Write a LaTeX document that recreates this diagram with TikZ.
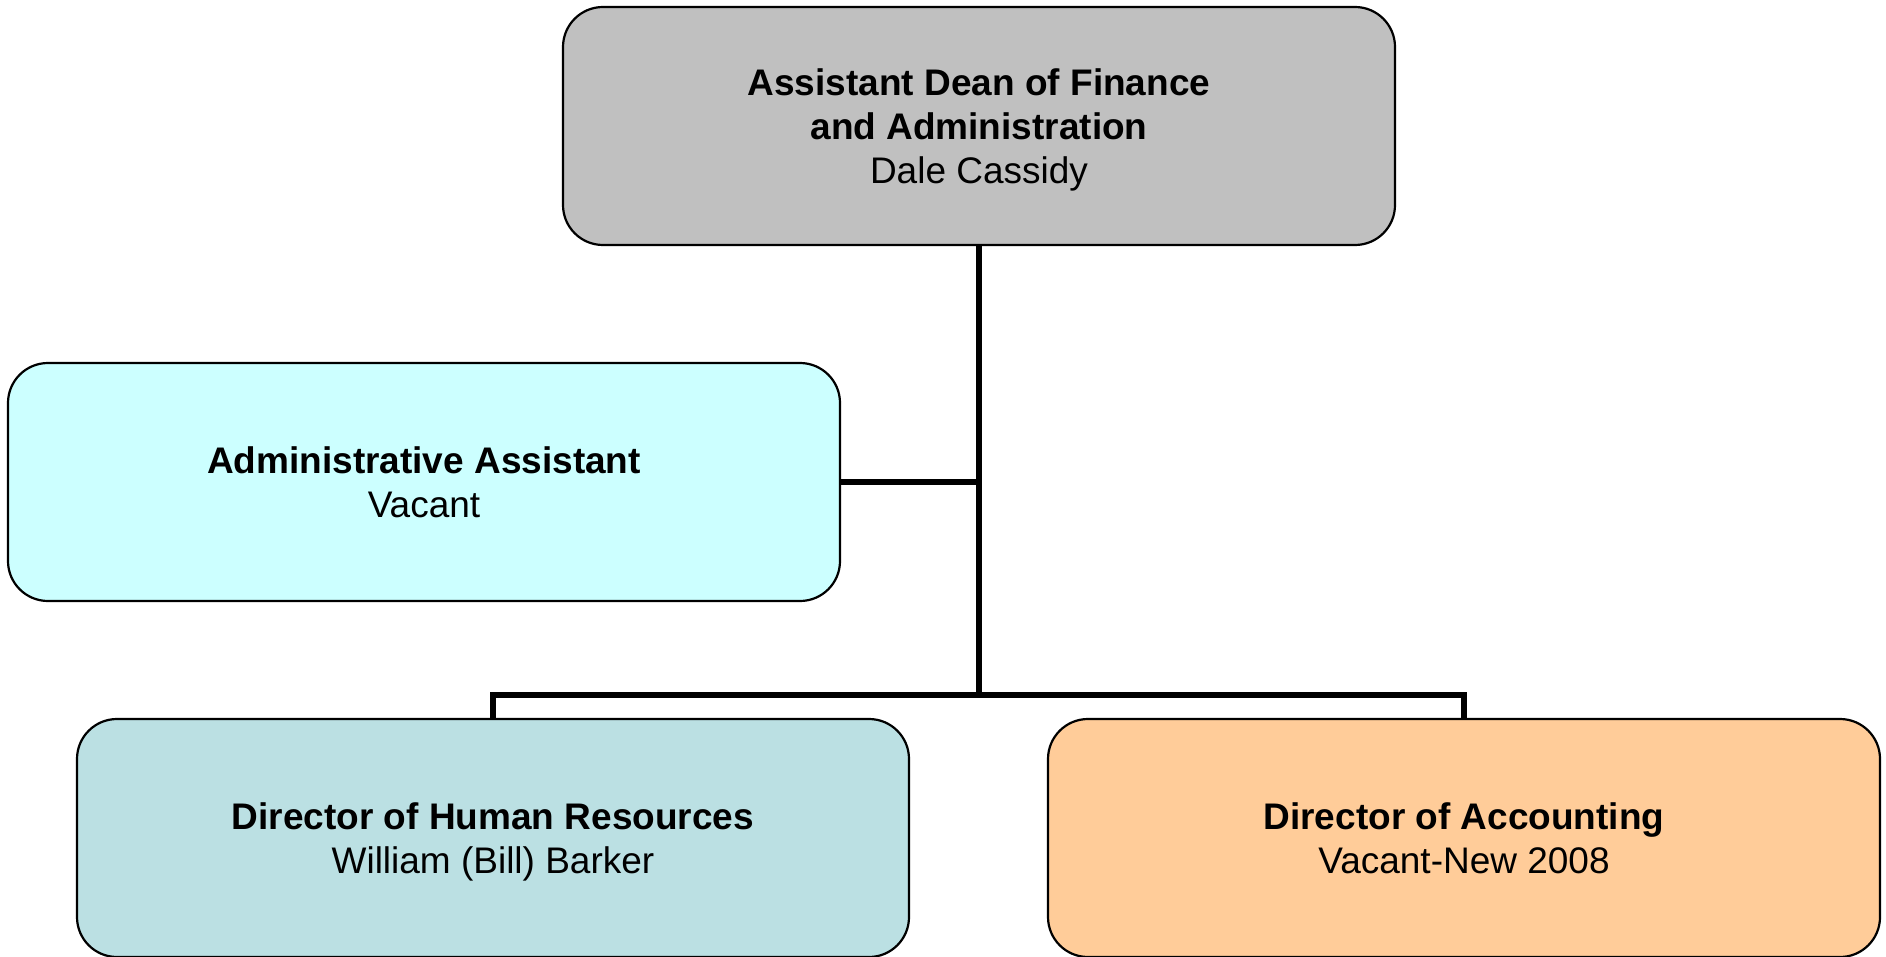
\documentclass[tikz,border=0pt]{standalone}
\usepackage{fontspec}
\setmainfont{Liberation Sans}
\definecolor{deangray}{HTML}{C0C0C0}
\definecolor{admincyan}{HTML}{CCFFFF}
\definecolor{hrteal}{HTML}{BBE0E3}
\definecolor{accorange}{HTML}{FFCC99}
\newcommand\orgTop{\rule{0pt}{35pt}}
\newcommand\orgBot{\rule[-8pt]{0pt}{8pt}}
\begin{document}
\begin{tikzpicture}[x=1pt,y=-1pt,
  orgbox/.style={draw=black, line width=2.2pt, rounded corners=40pt,
    minimum width=832pt, minimum height=238pt, inner sep=0pt,
    align=center, font=\fontsize{37}{44}\selectfont},
  link/.style={draw=black, line width=5.5pt, line cap=butt}]
\useasboundingbox (0,0) rectangle (1886,957);
\node[orgbox, fill=deangray] (dean) at (979,126)
  {\orgTop\textbf{Assistant Dean of Finance}\\\textbf{and Administration}\\Dale Cassidy\orgBot};
\node[orgbox, fill=admincyan] (admin) at (424,482)
  {\orgTop\textbf{Administrative Assistant}\\Vacant\orgBot};
\node[orgbox, fill=hrteal] (hr) at (493,838)
  {\orgTop\textbf{Director of Human Resources}\\William (Bill) Barker\orgBot};
\node[orgbox, fill=accorange] (acc) at (1464,838)
  {\orgTop\textbf{Director of Accounting}\\Vacant-New 2008\orgBot};
\coordinate (bus) at (979,695);
\draw[link] (dean.south) -- (bus);
\draw[link] (admin.east) -- (admin.east -| bus);
\draw[link] (hr.north) |- (bus) -| (acc.north);
\end{tikzpicture}
\end{document}
